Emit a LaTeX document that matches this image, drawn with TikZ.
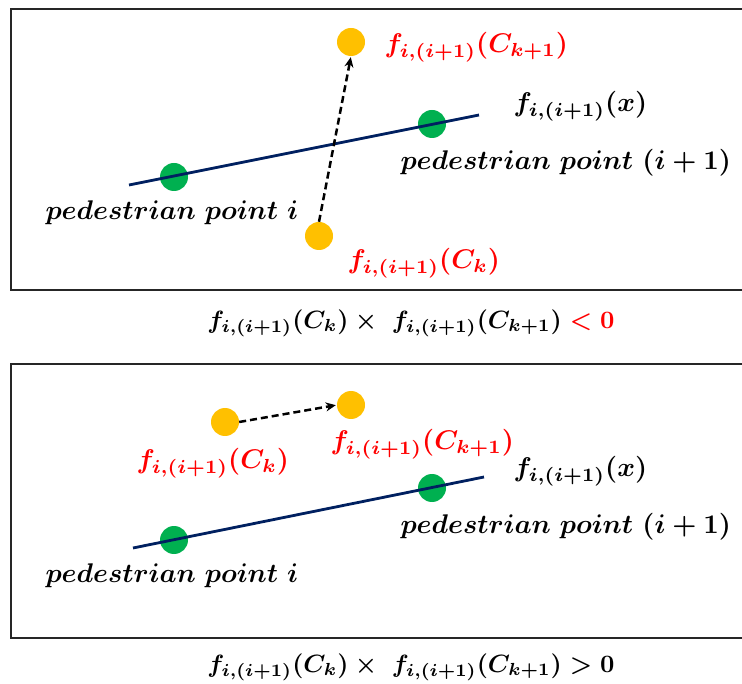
\documentclass[tikz,border=0pt]{standalone}
\usetikzlibrary{arrows.meta}
\definecolor{dotorange}{HTML}{FFC000}
\definecolor{dotgreen}{HTML}{00B050}
\definecolor{navyline}{HTML}{002060}
\definecolor{labred}{HTML}{FF0000}
\tikzset{
  frame/.style={draw=black!85, line width=1.3pt},
  gdot/.style={circle, fill=dotgreen, minimum size=28pt, inner sep=0pt},
  odot/.style={circle, fill=dotorange, minimum size=28pt, inner sep=0pt},
  fline/.style={draw=navyline, line width=2.8pt},
  moveto/.style={draw=black, dashed, dash pattern=on 7pt off 4pt, line width=2.5pt, -{Stealth[length=10pt,width=9pt]}},
  lab/.style={inner sep=0pt, scale=2.7, font=\fontsize{10}{12}\selectfont\boldmath},
  redlab/.style={lab, text=labred},
  caption/.style={lab, scale=2.5/2.7},
}
\begin{document}
\begin{tikzpicture}[x=1pt,y=-1pt]
\useasboundingbox (0,0) rectangle (742,684);
% ---------- top panel ----------
\draw[frame] (742,9) -- (11,9) -- (11,290) -- (742,290);
\node[gdot] (g1) at (174,177) {};
\node[gdot] (g2) at (432,124) {};
\coordinate (l1) at (129,185);
\coordinate (l2) at (479,115);
\draw[fline] (l1) -- (l2);
\node[odot] (ot) at (351,42) {};
\node[odot] (ob) at (319,236) {};
\draw[moveto, shorten >=1pt] (ob.north) -- (ot.south);
\node[redlab, anchor=west] (t1) at (384,47) {$f_{i,(i+1)}(C_{k+1})$};
\node[lab, anchor=west] (t2) at (513,106) {$f_{i,(i+1)}(x)$};
\node[lab, anchor=west] (t3) at (400,163) {$pedestrian\ point\ (i+1)$};
\node[lab, anchor=west] (t4) at (45,213) {$pedestrian\ point\ i$};
\node[redlab, anchor=west] (t5) at (347,263) {$f_{i,(i+1)}(C_k)$};
\node[caption] (c1) at (411,323) {$f_{i,(i+1)}(C_k)\times\ f_{i,(i+1)}(C_{k+1})\mathrel{\textcolor{labred}{<}}\textcolor{labred}{0}$};
% ---------- bottom panel ----------
\draw[frame] (742,364) -- (11,364) -- (11,638) -- (742,638);
\node[gdot] (h1) at (174,540) {};
\node[gdot] (h2) at (432,488) {};
\coordinate (m1) at (133,548);
\coordinate (m2) at (484,477);
\draw[fline] (m1) -- (m2);
\node[odot] (oa) at (225,422) {};
\node[odot] (ob2) at (351,405) {};
\draw[moveto, shorten >=1pt] (oa.east) -- (ob2.west);
\node[redlab, anchor=west] (u1) at (330,444) {$f_{i,(i+1)}(C_{k+1})$};
\node[redlab, anchor=west] (u2) at (136,463) {$f_{i,(i+1)}(C_k)$};
\node[lab, anchor=west] (u3) at (513,471) {$f_{i,(i+1)}(x)$};
\node[lab, anchor=west] (u4) at (400,527) {$pedestrian\ point\ (i+1)$};
\node[lab, anchor=west] (u5) at (45,576) {$pedestrian\ point\ i$};
\node[caption] (c2) at (411,667) {$f_{i,(i+1)}(C_k)\times\ f_{i,(i+1)}(C_{k+1})>0$};
\end{tikzpicture}
\end{document}
